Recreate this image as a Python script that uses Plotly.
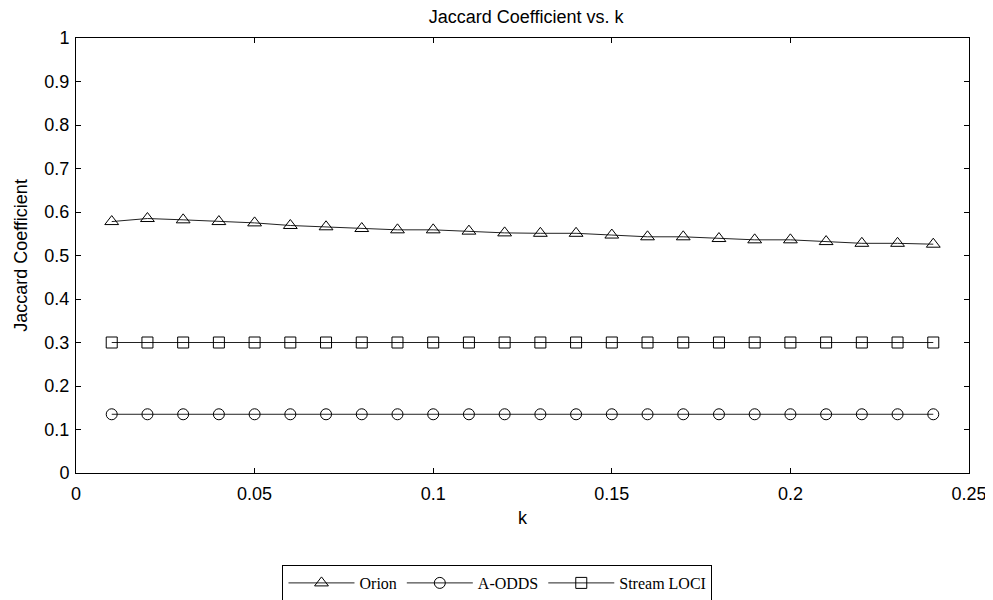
import plotly.graph_objects as go

k = [0.01, 0.02, 0.03, 0.04, 0.05, 0.06, 0.07, 0.08, 0.09, 0.10, 0.11, 0.12,
     0.13, 0.14, 0.15, 0.16, 0.17, 0.18, 0.19, 0.20, 0.21, 0.22, 0.23, 0.24]
orion = [0.578, 0.585, 0.582, 0.578, 0.575, 0.569, 0.566, 0.562, 0.559, 0.559, 0.556, 0.552,
         0.551, 0.551, 0.547, 0.543, 0.543, 0.539, 0.536, 0.536, 0.532, 0.528, 0.528, 0.526]
aodds = [0.135] * 24
stream_loci = [0.3] * 24

series = [("Orion", orion, "triangle-up-open", 12),
          ("A-ODDS", aodds, "circle-open", 11),
          ("Stream LOCI", stream_loci, "square-open", 11)]

fig = go.Figure()
for name, vals, sym, sz in series:
    fig.add_trace(go.Scatter(
        x=k, y=vals, name=name, mode="lines+markers",
        line=dict(color="#222222", width=1),
        marker=dict(symbol=sym, size=sz, color="black", line=dict(width=1, color="black")),
    ))

# page has an 8px body margin, so the figure is 8px smaller and offsets are shifted
W, H = 985, 592
axis_font = dict(family="Liberation Sans, Arial, sans-serif", size=18, color="black")
fig.update_layout(
    width=W, height=H,
    paper_bgcolor="white", plot_bgcolor="white",
    margin=dict(l=68, r=24, t=30, b=127, autoexpand=False),
    title=dict(text="Jaccard Coefficient vs. k", x=0.526, xanchor="center", y=1 - 9 / H, yref="container",
               yanchor="middle",
               font=dict(family="Liberation Sans, Arial, sans-serif", size=18, color="black")),
    xaxis=dict(range=[0, 0.25], tickvals=[0, 0.05, 0.1, 0.15, 0.2, 0.25],
               ticktext=["0", "0.05", "0.1", "0.15", "0.2", "0.25"],
               ticks="inside", ticklen=5, tickcolor="black", showline=True, linecolor="black",
               linewidth=1, mirror="ticks", showgrid=False, zeroline=False, tickfont=axis_font,
               automargin=False, ticklabelstandoff=4,
               title=dict(text="k", font=axis_font, standoff=8)),
    yaxis=dict(range=[0, 1], tickvals=[i / 10 for i in range(11)],
               ticktext=["0", "0.1", "0.2", "0.3", "0.4", "0.5", "0.6", "0.7", "0.8", "0.9", "1"],
               ticks="inside", ticklen=5, tickcolor="black", showline=True, linecolor="black",
               linewidth=1, mirror="ticks", showgrid=False, zeroline=False, tickfont=axis_font,
               automargin=False, ticklabelstandoff=2,
               title=dict(text="Jaccard Coefficient", font=axis_font, standoff=12)),
    legend=dict(orientation="h", x=0.472, xanchor="center", y=-0.2115, yanchor="top",
                bordercolor="black", borderwidth=1, bgcolor="white",
                font=dict(family="Liberation Serif, Times New Roman, serif", size=16, color="black"),
                itemwidth=66),
    showlegend=True,
)

fig.write_html("out.html")
